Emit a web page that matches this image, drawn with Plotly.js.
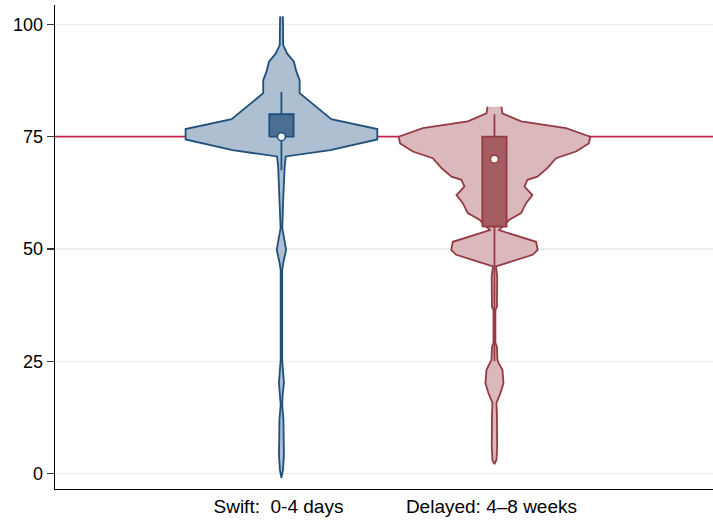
<!DOCTYPE html>
<html>
<head>
<meta charset="utf-8">
<script src="https://cdn.plot.ly/plotly-3.0.1.min.js"></script>
<style>
  body { margin: 0; background: #fff; }
  #plot { width: 713px; height: 520px; }
</style>
</head>
<body>
<div id="plot"></div>
<script>
// --- data ---
const groups = ['Swift:\u00a0 0-4 days', 'Delayed: 4\u20138 weeks'];

// violin outlines: score level and relative density (1 = widest)
const swiftLevels = [101.8, 101, 95.4, 93.5, 91.7, 89.5, 87.6, 84.7, 78.9, 76.7, 74.4, 72.0, 70.6,
  68.3, 60.9, 55.8, 54.6, 52, 49.8, 47.1, 45.3, 38.6, 25.3, 23, 20.2, 17.5, 15.3, 11.9, 7.5, 4.1, 0.8, -1];
const swiftDensity = [0.014, 0.016, 0.018, 0.06, 0.13, 0.156, 0.19, 0.19, 0.52, 1.0, 1.0, 0.51, 0.045,
  0.034, 0.018, 0.011, 0.009, 0.031, 0.049, 0.021, 0.008, 0.008, 0.008, 0.016, 0.026, 0.013, 0.008,
  0.021, 0.023, 0.026, 0.016, 0];

const delayedLevels = [81.7, 80.2, 78.4, 76.9, 75.0, 73.5, 71.7, 70.2, 68.0, 66.1, 65.4, 63.9, 62.0,
  60.2, 58.0, 56.5, 54.2, 51.6, 49.8, 48.7, 46.1, 43.8, 37.1, 36.4, 29.1, 28.2, 25.3, 24.6, 23.1,
  20.1, 17.9, 15.7, 12.6, 6.0, 3.0, 2.1];
const delayedDensity = [0.073, 0.083, 0.278, 0.747, 1.0, 0.984, 0.851, 0.643, 0.552, 0.448, 0.344,
  0.313, 0.396, 0.33, 0.278, 0.156, 0.047, 0.434, 0.451, 0.399, 0.016, 0.029, 0.026, 0.01, 0.01,
  0.026, 0.031, 0.042, 0.083, 0.094, 0.063, 0.021, 0.026, 0.028, 0.021, 0];

// box summaries: [Swift, Delayed]
const lowerAdj = [67.5, 25];
const q1 = [75, 55];
const median = [75, 70];
const q3 = [80, 75];
const upperAdj = [85, 80];

const refValue = 75;
const yTicks = [0, 25, 50, 75, 100];

// --- styling ---
const outline = ['#1f4f7a', '#943a43'];
const fill = ['#adbfd0', '#dbb8bc'];
const boxFill = ['#4b6f93', '#a65c63'];
const halfWidth = 0.45;
const boxHalf = 0.057;
const xRange = [-1.063, 2.026];
const font = 'Arial, "Liberation Sans", sans-serif';

function violinTrace(pos, levels, density, i) {
    const right = levels.map((v, k) => pos + halfWidth * density[k]);
    const left = levels.map((v, k) => pos - halfWidth * density[k]).reverse();
    return {
        type: 'scatter', mode: 'lines',
        x: right.concat(left),
        y: levels.concat(levels.slice().reverse()),
        fill: 'toself', fillcolor: fill[i],
        line: { color: outline[i], width: 1.8 },
        hoverinfo: 'skip', showlegend: false
    };
}

function boxTraces(pos, i) {
    const whisker = {
        type: 'scatter', mode: 'lines',
        x: [pos, pos], y: [lowerAdj[i], upperAdj[i]],
        line: { color: outline[i], width: 1.8 },
        hoverinfo: 'skip', showlegend: false
    };
    const box = {
        type: 'scatter', mode: 'lines',
        x: [pos - boxHalf, pos + boxHalf, pos + boxHalf, pos - boxHalf, pos - boxHalf],
        y: [q1[i], q1[i], q3[i], q3[i], q1[i]],
        fill: 'toself', fillcolor: boxFill[i],
        line: { color: outline[i], width: 1.8 },
        hoverinfo: 'skip', showlegend: false
    };
    const med = {
        type: 'scatter', mode: 'markers',
        x: [pos], y: [median[i]],
        marker: { color: 'white', size: 8, line: { color: outline[i], width: 1.6 } },
        showlegend: false
    };
    return [whisker, box, med];
}

// reference line behind the violins
const refLine = {
    type: 'scatter', mode: 'lines',
    x: xRange, y: [refValue, refValue],
    line: { color: '#c8234b', width: 1.8 },
    hoverinfo: 'skip', showlegend: false
};

const traces = [
    refLine,
    violinTrace(0, swiftLevels, swiftDensity, 0),
    violinTrace(1, delayedLevels, delayedDensity, 1),
    ...boxTraces(0, 0),
    ...boxTraces(1, 1)
];

const layout = {
    width: 713, height: 520,
    margin: { l: 55, r: 0, t: 5, b: 31 },
    paper_bgcolor: 'white', plot_bgcolor: 'white',
    font: { family: font, size: 18, color: '#000' },
    showlegend: false,
    xaxis: {
        range: xRange,
        tickvals: [0, 1], ticktext: groups,
        ticks: '', showgrid: false, zeroline: false,
        ticklabelshift: -3,
        showline: true, linecolor: 'black', linewidth: 1.3,
        tickfont: { size: 19, family: font, color: '#000' }
    },
    yaxis: {
        range: [-3.47, 104.34],
        tickvals: yTicks,
        ticks: 'outside', ticklen: 7, tickcolor: '#333', tickwidth: 1.3,
        showgrid: true, gridcolor: '#eaeff2', gridwidth: 1.2,
        zeroline: false,
        showline: true, linecolor: 'black', linewidth: 1.3,
        tickfont: { size: 18, family: font, color: '#000' }
    }
};

Plotly.newPlot('plot', traces, layout, { staticPlot: true });
</script>
</body>
</html>
